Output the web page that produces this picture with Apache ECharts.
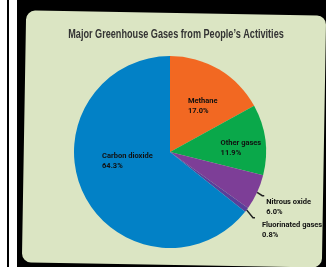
<!DOCTYPE html>
<html>
<head>
<meta charset="utf-8">
<script src="https://cdn.jsdelivr.net/npm/echarts@6/dist/echarts.min.js"></script>
<style>
  html, body { margin: 0; padding: 0; background: #fff; }
  #main { width: 326px; height: 267px; }
</style>
</head>
<body>
<div id="main"></div>
<script>
// data
var gasNames = ['Methane', 'Other gases', 'Nitrous oxide', 'Fluorinated gases', 'Carbon dioxide'];
var gasShares = [17.0, 11.9, 6.0, 0.8, 64.3];
var gasColors = ['#f26822', '#0aa84a', '#7d3e97', '#5a3f9a', '#0281c6'];
// labels sitting outside the pie
var outsideNames = ['Nitrous oxide', 'Fluorinated gases'];

var myChart = echarts.init(document.getElementById('main'));

var pieData = gasNames.map(function (name, i) {
    var outside = outsideNames.indexOf(name) >= 0;
    return {
        name: name,
        value: gasShares[i],
        itemStyle: { color: gasColors[i] },
        label: { position: outside ? 'outside' : 'inside' },
        labelLine: { show: outside }
    };
});

// nudges so the labels sit where the original put them
var labelNudge = {
    'Methane': [-8, -2],
    'Other gases': [0, 3],
    'Carbon dioxide': [-22, -13],
    'Nitrous oxide': [-3, 11],
    'Fluorinated gases': [2, 12]
};

myChart.setOption({
    backgroundColor: '#fff',
    graphic: [
        { type: 'rect', shape: { x: 7, y: 0, width: 2, height: 267 }, style: { fill: '#000' }, z: -10 },
        { type: 'rect', shape: { x: 17, y: 0, width: 309, height: 267 }, style: { fill: '#000' }, z: -10 },
        {
            type: 'rect',
            shape: { x: 24, y: 13, width: 300, height: 252, r: 9 },
            originX: 174, originY: 139,
            rotation: -0.017,
            style: { fill: '#dbe5c3' },
            z: -9
        },
        {
            // title, squeezed sideways like the condensed face of the original
            type: 'text',
            x: 176, y: 35,
            scaleX: 0.76,
            style: {
                text: 'Major Greenhouse Gases from People\u2019s Activities',
                align: 'center',
                verticalAlign: 'middle',
                font: 'bold 12px "Liberation Sans", sans-serif',
                fill: '#333'
            }
        }
    ],
    series: [{
        type: 'pie',
        center: [170, 152],
        radius: [0, 96],
        startAngle: 90,
        clockwise: true,
        silent: true,
        data: pieData,
        label: {
            formatter: function (p) { return p.name + '\n' + p.value.toFixed(1) + '%'; },
            fontFamily: 'Roboto',
            fontWeight: 'bold',
            fontSize: 7.5,
            lineHeight: 10,
            color: '#111',
            overflow: 'none'
        },
        labelLine: {
            length: 8,
            length2: 2,
            lineStyle: { color: '#222', width: 1.5 }
        },
        labelLayout: function (params) {
            var nudge = labelNudge[gasNames[params.dataIndex]];
            var out = { align: 'left' };
            if (nudge) {
                out.dx = nudge[0];
                out.dy = nudge[1];
            }
            return out;
        }
    }]
});
</script>
</body>
</html>
